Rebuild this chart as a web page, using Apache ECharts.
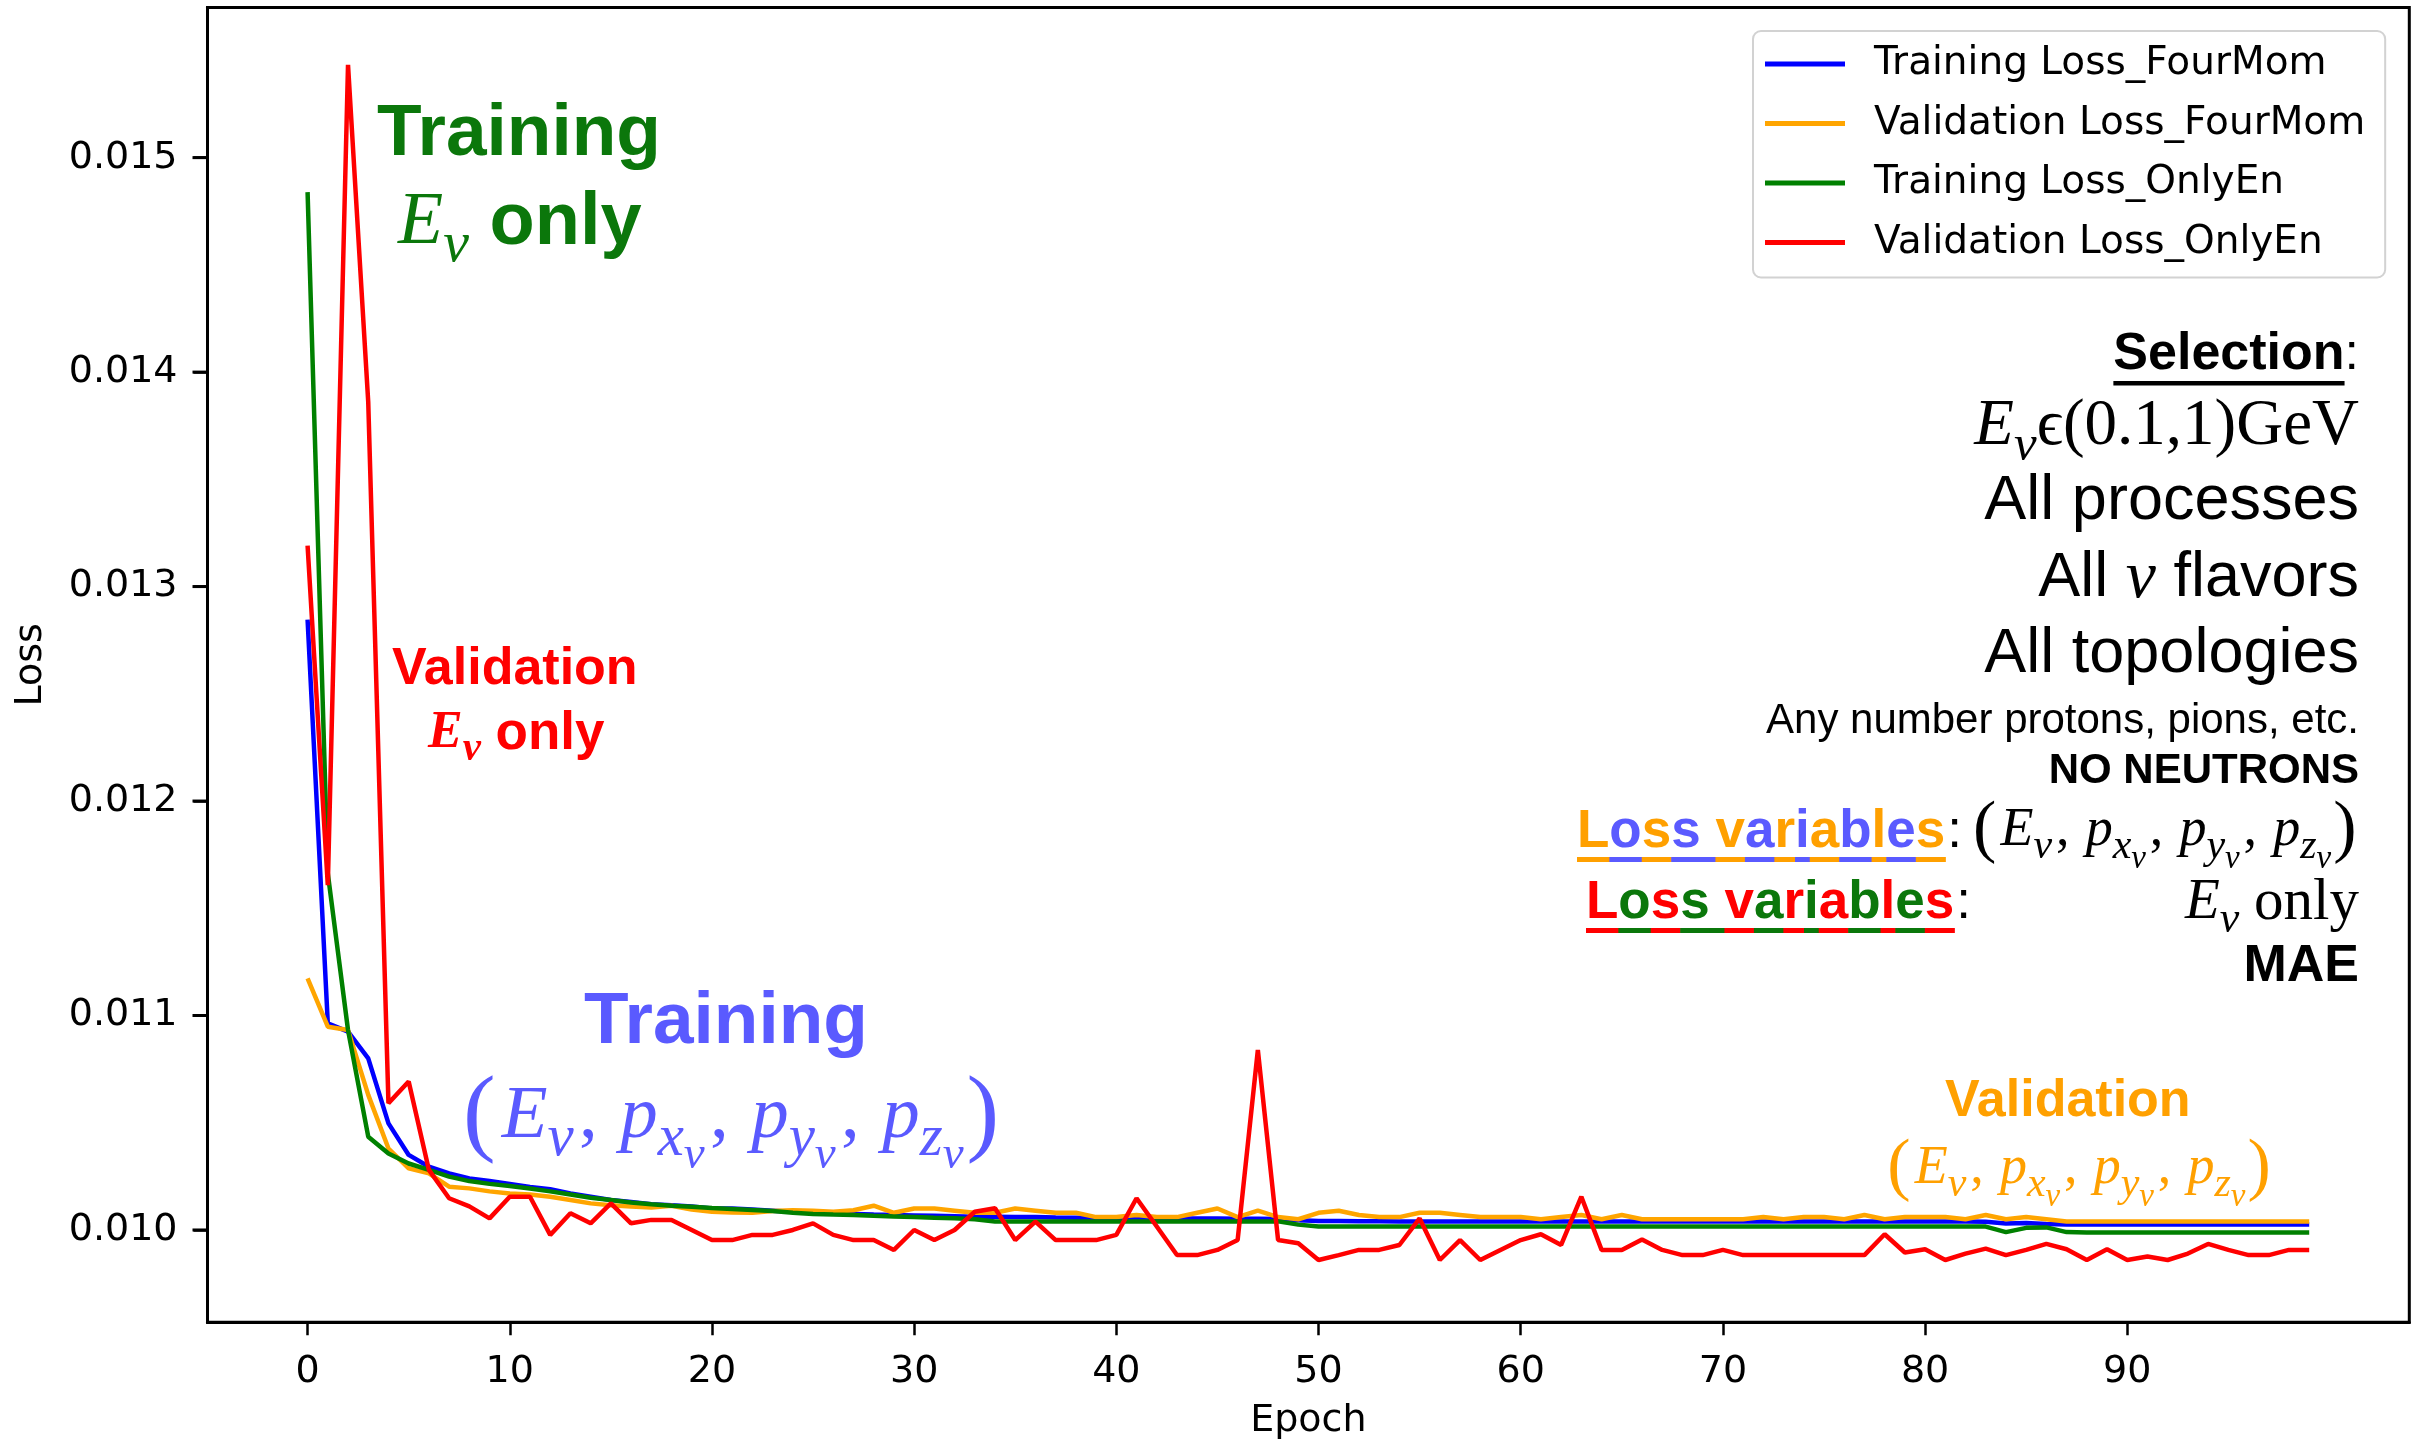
<!DOCTYPE html>
<html><head><meta charset="utf-8">
<script src="https://cdn.jsdelivr.net/npm/echarts@6/dist/echarts.min.js"></script>
<style>html,body{margin:0;padding:0;background:#fff;}#c{width:2411px;height:1442px;}</style>
</head><body><div id="c"></div>
<script>
// ---------------- data ----------------
const epochTicks = [0, 10, 20, 30, 40, 50, 60, 70, 80, 90];
const lossTicks = [0.010, 0.011, 0.012, 0.013, 0.014, 0.015];
const seriesNames = ['Training Loss_FourMom', 'Validation Loss_FourMom', 'Training Loss_OnlyEn', 'Validation Loss_OnlyEn'];
const seriesColors = ['#0000ff', '#ffa500', '#008000', '#ff0000'];

const trainFourMom = [
 0.012846, 0.010963, 0.010925, 0.01080, 0.010497, 0.01035, 0.010295, 0.010264, 0.01024, 0.010228,
 0.010215, 0.0102, 0.01019, 0.01017, 0.010155, 0.01014, 0.01013, 0.01012, 0.010115, 0.01011,
 0.0101, 0.0101, 0.010095, 0.01009, 0.010085, 0.01008, 0.010078, 0.010075, 0.010072, 0.01007,
 0.010068, 0.010066, 0.010064, 0.010062, 0.010062, 0.01006, 0.01006, 0.010058, 0.010057, 0.010056,
 0.010055, 0.010055, 0.010054, 0.010054, 0.010053, 0.010053, 0.010052, 0.010052, 0.010051, 0.010045,
 0.010042, 0.010042, 0.010041, 0.010041, 0.01004, 0.01004, 0.01004, 0.01004, 0.01004, 0.01004,
 0.01004, 0.01004, 0.01004, 0.01004, 0.01004, 0.01004, 0.01004, 0.01004, 0.01004, 0.01004,
 0.01004, 0.01004, 0.01004, 0.01004, 0.01004, 0.01004, 0.01004, 0.01004, 0.01004, 0.01004,
 0.01004, 0.01004, 0.01004, 0.010038, 0.01003, 0.010032, 0.010028, 0.010025, 0.010025, 0.010025,
 0.010025, 0.010025, 0.010025, 0.010025, 0.010025, 0.010025, 0.010025, 0.010025, 0.010025, 0.010025
];
const valFourMom = [
 0.011173, 0.010948, 0.010932, 0.01063, 0.01038, 0.010287, 0.010264, 0.010202, 0.010194, 0.01018,
 0.01017, 0.010165, 0.010155, 0.01014, 0.010124, 0.010115, 0.010109, 0.010105, 0.010113, 0.010095,
 0.010085, 0.010082, 0.01008, 0.010088, 0.010092, 0.01009, 0.010085, 0.010092, 0.010113, 0.01008,
 0.0101, 0.0101, 0.01009, 0.01008, 0.01008, 0.0101, 0.01009, 0.01008, 0.01008, 0.01006,
 0.01006, 0.01007, 0.01006, 0.01006, 0.01008, 0.0101, 0.01006, 0.01009, 0.01006, 0.01005,
 0.01008, 0.01009, 0.01007, 0.01006, 0.01006, 0.01008, 0.01008, 0.01007, 0.01006, 0.01006,
 0.01006, 0.01005, 0.01006, 0.01007, 0.01005, 0.01007, 0.01005, 0.01005, 0.01005, 0.01005,
 0.01005, 0.01005, 0.01006, 0.01005, 0.01006, 0.01006, 0.01005, 0.01007, 0.01005, 0.01006,
 0.01006, 0.01006, 0.01005, 0.01007, 0.01005, 0.01006, 0.01005, 0.01004, 0.01004, 0.01004,
 0.01004, 0.01004, 0.01004, 0.01004, 0.01004, 0.01004, 0.01004, 0.01004, 0.01004, 0.01004
];
const trainOnlyEn = [
 0.014839, 0.011663, 0.010932, 0.010435, 0.010357, 0.01031, 0.01028, 0.010249, 0.010228, 0.010215,
 0.010205, 0.010193, 0.01018, 0.010165, 0.01015, 0.01014, 0.010128, 0.01012, 0.010113, 0.010108,
 0.010102, 0.010098, 0.010093, 0.010088, 0.01008, 0.010075, 0.010072, 0.01007, 0.010066, 0.010063,
 0.01006, 0.010057, 0.010055, 0.01005, 0.01004, 0.01004, 0.01004, 0.01004, 0.01004, 0.01004,
 0.01004, 0.01004, 0.01004, 0.01004, 0.01004, 0.01004, 0.01004, 0.01004, 0.01004, 0.010025,
 0.010016, 0.010016, 0.010016, 0.010016, 0.010016, 0.010016, 0.010016, 0.010016, 0.010016, 0.010016,
 0.010016, 0.010016, 0.010016, 0.010016, 0.010016, 0.010016, 0.010016, 0.010016, 0.010016, 0.010016,
 0.010016, 0.010016, 0.010016, 0.010016, 0.010016, 0.010016, 0.010016, 0.010016, 0.010016, 0.010016,
 0.010016, 0.010016, 0.010016, 0.010016, 0.00999, 0.01001, 0.010012, 0.00999, 0.009988, 0.009988,
 0.009988, 0.009988, 0.009988, 0.009988, 0.009988, 0.009988, 0.009988, 0.009988, 0.009988, 0.009988
];
const valOnlyEn = [
 0.013191, 0.011608, 0.015433, 0.01386, 0.010591, 0.010692, 0.01028, 0.010148, 0.01011, 0.010054,
 0.010155, 0.010155, 0.009977, 0.010078, 0.010031, 0.010124, 0.010031, 0.010047, 0.010047, 0.01,
 0.009953, 0.009953, 0.009977, 0.009977, 0.01, 0.010031, 0.009977, 0.009953, 0.009953, 0.009907,
 0.01, 0.009953, 0.01, 0.010085, 0.010101, 0.009953, 0.010039, 0.009953, 0.009953, 0.009953,
 0.009977, 0.010148, 0.010016, 0.009883, 0.009883, 0.009907, 0.009953, 0.010839, 0.009953, 0.009938,
 0.00986, 0.009883, 0.009907, 0.009907, 0.00993, 0.010054, 0.00986, 0.009953, 0.00986, 0.009907,
 0.009953, 0.00998, 0.00993, 0.010155, 0.009907, 0.009907, 0.009956, 0.009907, 0.009883, 0.009883,
 0.009907, 0.009883, 0.009883, 0.009883, 0.009883, 0.009883, 0.009883, 0.009883, 0.00998, 0.009895,
 0.00991, 0.00986, 0.00989, 0.009913, 0.009883, 0.009907, 0.009935, 0.00991, 0.00986, 0.00991,
 0.00986, 0.009876, 0.00986, 0.00989, 0.009935, 0.009907, 0.009883, 0.009883, 0.009907, 0.009907
];
const allSeries = [trainFourMom, valFourMom, trainOnlyEn, valOnlyEn];

// ---------------- styling helpers ----------------
const SANS = '"Liberation Sans", Arial, sans-serif';
const SERIF = '"Liberation Serif", "Times New Roman", serif';
const DJ = '"DejaVu Sans", sans-serif';
const C_GREEN = '#0b770b', C_BLUE = '#5a5aff', C_ORANGE = '#ffa000', C_RED = '#ff0000';
const ctx = document.createElement('canvas').getContext('2d');
const DY = 5; // vertical correction for text placement

function txt(x, y, text, font, fill, align, rich) {
  const st = {text, font, fill, align: align || 'left', verticalAlign: 'middle',
              textAlign: align || 'left', textVerticalAlign: 'middle'};
  if (rich) st.rich = rich;
  return {type: 'text', x, y: y + DY, silent: true, z: 100, style: st};
}
function tok(o, c) { return Object.assign({fill: c, color: c}, o); }

function tupleRich(F, c) {
  const L = Math.round(1.6 * F);
  const b = {fontFamily: SERIF, lineHeight: L};
  return {
    text: '{P|(}{M|E}{S|ν}{C|,}{M|p}{S|x}{Q|ν}{C|,}{M|p}{S|y}{Q|ν}{C|,}{M|p}{S|z}{Q|ν}{P|)}',
    rich: {
      P: tok({...b, fontSize: Math.round(1.3 * F), padding: [0, 0.08 * F, 0, 0.04 * F]}, c),
      M: tok({...b, fontSize: F, fontStyle: 'italic'}, c),
      C: tok({...b, fontSize: F, padding: [0, 0.3 * F, 0, 0.07 * F]}, c),
      S: tok({...b, fontSize: Math.round(0.78 * F), fontStyle: 'italic', verticalAlign: 'bottom', height: Math.round(1.0 * F)}, c),
      Q: tok({...b, fontSize: Math.round(0.62 * F), fontStyle: 'italic', verticalAlign: 'bottom', height: Math.round(0.56 * F)}, c)
    }
  };
}
function eNuRich(F, c, rest, restStyle, bold) {
  const L = Math.round(1.6 * F);
  const b = {fontFamily: SERIF, lineHeight: L, fontWeight: bold ? 'bold' : 'normal'};
  return {
    text: '{M|E}{S|ν}{R|' + rest + '}',
    rich: {
      M: tok({...b, fontSize: F, fontStyle: 'italic'}, c),
      S: tok({...b, fontSize: Math.round(0.78 * F), fontStyle: 'italic', verticalAlign: 'bottom', height: Math.round(1.0 * F)}, c),
      R: tok(Object.assign({lineHeight: L}, restStyle), c)
    }
  };
}

const els = [];
// --- plot annotations ---
els.push(txt(377, 130, 'Training', 'bold 73px ' + SANS, C_GREEN));
{ const r = eNuRich(74, C_GREEN, ' only', {fontFamily: SANS, fontWeight: 'bold', fontSize: 74});
  els.push(txt(398, 219, r.text, '74px ' + SERIF, C_GREEN, 'left', r.rich)); }
els.push(txt(392, 665, 'Validation', 'bold 52px ' + SANS, C_RED));
{ const r = eNuRich(52, C_RED, ' only', {fontFamily: SANS, fontWeight: 'bold', fontSize: 53}, true);
  els.push(txt(428, 729, r.text, '52px ' + SERIF, C_RED, 'left', r.rich)); }
els.push(txt(584, 1018, 'Training', 'bold 73px ' + SANS, C_BLUE));
{ const r = tupleRich(75, C_BLUE); els.push(txt(460, 1112, r.text, '75px ' + SERIF, C_BLUE, 'left', r.rich)); }
els.push(txt(1945, 1097, 'Validation', 'bold 52px ' + SANS, C_ORANGE));
{ const r = tupleRich(54, C_ORANGE); els.push(txt(1885, 1164, r.text, '54px ' + SERIF, C_ORANGE, 'left', r.rich)); }

// --- right text block ---
const RX = 2359;
ctx.font = 'bold 52px ' + SANS;
const wSel = ctx.measureText('Selection').width;
ctx.font = '52px ' + SANS;
const wCol = ctx.measureText(':').width;
els.push(txt(RX, 350, '{b|Selection}{n|:}', 'bold 52px ' + SANS, '#000', 'right', {
  b: tok({fontFamily: SANS, fontWeight: 'bold', fontSize: 52, lineHeight: 60}, '#000'),
  n: tok({fontFamily: SANS, fontSize: 52, lineHeight: 60}, '#000')}));
els.push({type: 'rect', silent: true, z: 100, shape: {x: RX - wCol - wSel, y: 376 + DY, width: wSel, height: 4.5}, style: {fill: '#000'}});
{ const r = eNuRich(65, '#000', 'ϵ(0.1,1)GeV', {fontFamily: SERIF, fontSize: 65});
  els.push(txt(RX, 422, r.text, '65px ' + SERIF, '#000', 'right', r.rich)); }
els.push(txt(RX, 497, 'All processes', '63px ' + SANS, '#000', 'right'));
els.push(txt(RX, 574, '{a|All }{n|ν}{a| flavors}', '63px ' + SANS, '#000', 'right', {
  a: tok({fontFamily: SANS, fontSize: 63, lineHeight: 80}, '#000'),
  n: tok({fontFamily: SERIF, fontStyle: 'italic', fontSize: 68, lineHeight: 80}, '#000')}));
els.push(txt(RX, 650, 'All topologies', '63px ' + SANS, '#000', 'right'));
els.push(txt(RX, 716, 'Any number protons, pions, etc.', '42px ' + SANS, '#000', 'right'));
els.push(txt(RX, 766, 'NO NEUTRONS', 'bold 42px ' + SANS, '#000', 'right'));

function colorWord(word, x0, yC, F, colors, ulTop, ulH) {
  const font = 'bold ' + F + 'px ' + SANS;
  ctx.font = font;
  let x = x0, k = 0, last = colors[0];
  for (const ch of word) {
    const w = ctx.measureText(ch).width;
    let col;
    if (ch === ' ') col = last; else { col = colors[k % colors.length]; k++; }
    last = col;
    if (ch !== ' ') els.push(txt(x, yC, ch, font, col, 'left'));
    els.push({type: 'rect', silent: true, z: 100, shape: {x: x, y: ulTop + DY, width: w + 0.6, height: ulH}, style: {fill: col}});
    x += w;
  }
  els.push(txt(x + 2, yC, ':', F + 'px ' + SANS, '#000', 'left'));
}
colorWord('Loss variables', 1577, 827, 53, [C_ORANGE, C_BLUE], 852, 5);
{ const r = tupleRich(54, '#000'); els.push(txt(RX + 2, 826, r.text, '54px ' + SERIF, '#000', 'right', r.rich)); }
colorWord('Loss variables', 1586, 898, 53, [C_RED, C_GREEN], 923, 5);
{ const r = eNuRich(57, '#000', ' only', {fontFamily: SERIF, fontSize: 59});
  els.push(txt(RX, 898, r.text, '57px ' + SERIF, '#000', 'right', r.rich)); }
els.push(txt(RX, 962, 'MAE', 'bold 52px ' + SANS, '#000', 'right'));

// ---------------- chart ----------------
const chart = echarts.init(document.getElementById('c'), null, {renderer: 'canvas'});
chart.setOption({
  animation: false,
  backgroundColor: '#ffffff',
  grid: {left: 207.5, right: 1.7, top: 7.5, bottom: 119.8, show: true, containLabel: false,
         outerBoundsMode: 'none',
         borderColor: '#000', borderWidth: 3, backgroundColor: 'transparent'},
  xAxis: {
    type: 'value', min: -4.95, max: 103.95, position: 'bottom',
    name: 'Epoch', nameLocation: 'middle', nameGap: 80,
    nameTextStyle: {fontFamily: DJ, fontSize: 38, color: '#000'},
    axisLine: {show: true, onZero: false, lineStyle: {color: '#000', width: 3}},
    splitLine: {show: false},
    axisTick: {show: true, inside: false, customValues: epochTicks, length: 13, lineStyle: {color: '#000', width: 2.5}},
    axisLabel: {customValues: epochTicks, fontFamily: DJ, fontSize: 38, color: '#000', margin: 31,
                formatter: v => String(Math.round(v))}
  },
  yAxis: {
    type: 'value', min: 0.00957, max: 0.0157, position: 'left',
    name: 'Loss', nameLocation: 'middle', nameGap: 157,
    nameTextStyle: {fontFamily: DJ, fontSize: 38, color: '#000'},
    axisLine: {show: true, onZero: false, lineStyle: {color: '#000', width: 3}},
    splitLine: {show: false},
    axisTick: {show: true, inside: false, customValues: lossTicks, length: 14, lineStyle: {color: '#000', width: 2.5}},
    axisLabel: {customValues: lossTicks, fontFamily: DJ, fontSize: 38, color: '#000', margin: 30,
                padding: [6, 0, 0, 0], formatter: v => v.toFixed(3)}
  },
  legend: {
    orient: 'vertical', left: 1753, top: 31,
    padding: [13, 20, 15, 12],
    itemWidth: 80, itemHeight: 5, itemGap: 19.5, icon: 'rect',
    backgroundColor: '#ffffff', borderColor: '#d2d2d2', borderWidth: 2, borderRadius: 8,
    textStyle: {fontFamily: DJ, fontSize: 39, color: '#000', lineHeight: 40, padding: [0, 0, 0, 24]},
    data: seriesNames
  },
  series: allSeries.map((vals, s) => ({
    name: seriesNames[s], type: 'line', showSymbol: false, symbol: 'none',
    color: seriesColors[s],
    lineStyle: {color: seriesColors[s], width: 4.5},
    data: vals.map((v, i) => [i, v])
  }))
});

// y-axis tick marks placed through the chart's own y scale
let gridLeft = Number(chart.convertToPixel({xAxisIndex: 0}, -4.95));
if (!isFinite(gridLeft) || gridLeft < 150 || gridLeft > 260) gridLeft = 207.5;
const yTickEls = [];
lossTicks.forEach(v => {
  let py = chart.convertToPixel({yAxisIndex: 0}, v);
  if (Array.isArray(py)) py = py[py.length - 1];
  py = Number(py);
  if (!isFinite(py)) py = Number(chart.convertToPixel({gridIndex: 0}, [0, v])[1]);
  yTickEls.push({type: 'rect', silent: true, z: 120, x: 0, y: 0, invisible: false,
          shape: {x: gridLeft - 15, y: py - 1.5, width: 15, height: 3},
          style: {fill: '#000', opacity: 1}});
});
chart.setOption({graphic: {elements: els.concat(yTickEls)}});
</script></body></html>
